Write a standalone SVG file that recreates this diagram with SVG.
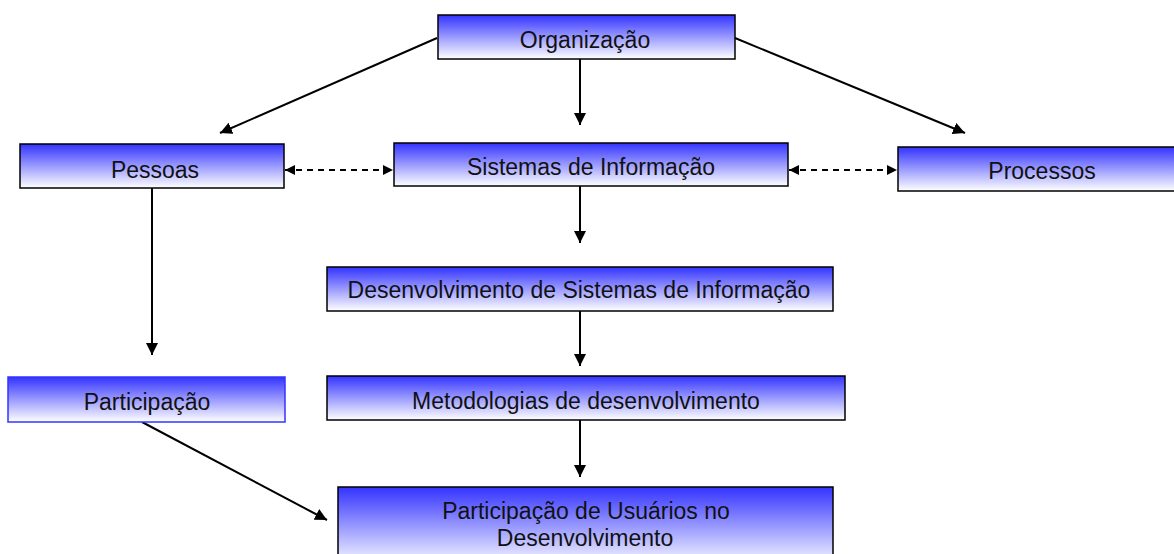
<svg xmlns="http://www.w3.org/2000/svg" width="1174" height="554" viewBox="0 0 1174 554">
<defs>
<linearGradient id="g" x1="0" y1="0" x2="0" y2="1">
<stop offset="0" stop-color="#3333ff"/>
<stop offset="0.5" stop-color="#9a9aff"/>
<stop offset="1" stop-color="#ffffff"/>
</linearGradient>
<marker id="ah" viewBox="0 0 10 10" refX="10" refY="5" markerWidth="12" markerHeight="12" markerUnits="userSpaceOnUse" orient="auto-start-reverse">
<path d="M0,0 L10,5 L0,10 z" fill="#000"/>
</marker>
<marker id="ahs" viewBox="0 0 10 10" refX="10" refY="5" markerWidth="10" markerHeight="10" markerUnits="userSpaceOnUse" orient="auto-start-reverse">
<path d="M0,0 L10,5 L0,10 z" fill="#000"/>
</marker>
</defs>
<style>
.box{fill:url(#g);stroke:#000;stroke-width:1.5}
.boxb{fill:url(#g);stroke:#3333ff;stroke-width:1.5}
.t{font-family:"Liberation Sans",Arial,sans-serif;font-size:23px;fill:#111;text-anchor:middle}
.c{stroke:#000;stroke-width:2;fill:none;marker-end:url(#ah)}
.d{stroke:#000;stroke-width:2;fill:none;stroke-dasharray:6,5;marker-start:url(#ahs);marker-end:url(#ahs)}
</style>
<rect width="1174" height="554" fill="#fff"/>
<g id="connectors">
<line class="c" x1="437" y1="38" x2="220" y2="133"/>
<line class="c" x1="580" y1="59" x2="580" y2="125"/>
<line class="c" x1="735" y1="38" x2="965" y2="133"/>
<line class="d" x1="285" y1="170" x2="393" y2="170"/>
<line class="d" x1="789" y1="170" x2="897" y2="170"/>
<line class="c" x1="580" y1="186" x2="580" y2="243"/>
<line class="c" x1="580" y1="311" x2="580" y2="366"/>
<line class="c" x1="580" y1="420" x2="580" y2="477"/>
<line class="c" x1="152" y1="188" x2="152" y2="355"/>
<line class="c" x1="142" y1="422" x2="327" y2="520"/>
</g>
<g id="organizacao">
<rect class="box" x="438" y="15" width="297" height="44"/>
<text class="t" x="585" y="48">Organização</text>
</g>
<g id="pessoas">
<rect class="box" x="20" y="144" width="264" height="44"/>
<text class="t" x="155" y="178">Pessoas</text>
</g>
<g id="sistemas">
<rect class="box" x="394" y="143" width="394" height="43"/>
<text class="t" x="591" y="175">Sistemas de Informação</text>
</g>
<g id="processos">
<rect class="box" x="898" y="147" width="282" height="44"/>
<text class="t" x="1042" y="179">Processos</text>
</g>
<g id="desenvolvimento">
<rect class="box" x="327" y="267" width="506" height="44"/>
<text class="t" x="579" y="298">Desenvolvimento de Sistemas de Informação</text>
</g>
<g id="metodologias">
<rect class="box" x="327" y="376" width="518" height="44"/>
<text class="t" x="586" y="409">Metodologias de desenvolvimento</text>
</g>
<g id="participacao">
<rect class="boxb" x="8" y="377" width="277" height="45"/>
<text class="t" x="147" y="410">Participação</text>
</g>
<g id="participacao-usuarios">
<rect class="box" x="338" y="487" width="495" height="80"/>
<text class="t" x="586" y="519">Participação de Usuários no</text>
<text class="t" x="585" y="546">Desenvolvimento</text>
</g>
</svg>
